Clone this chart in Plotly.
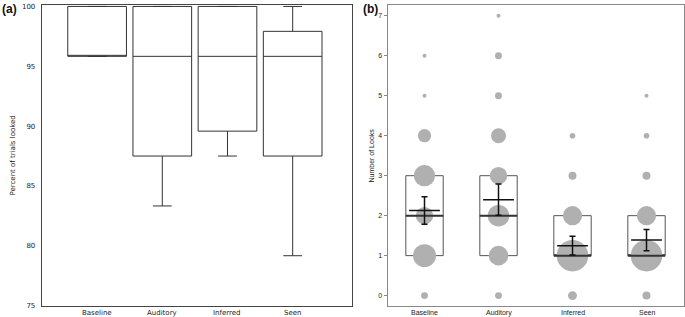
import plotly.graph_objects as go

categories = ["Baseline", "Auditory", "Inferred", "Seen"]

# Panel (a): percent of trials looked (box summary)
a_q1 = [95.83, 87.5, 89.58, 87.5]
a_median = [95.83, 95.83, 95.83, 95.83]
a_q3 = [100.0, 100.0, 100.0, 97.92]
a_low = [95.83, 83.33, 87.5, 79.17]
a_high = [100.0, 100.0, 100.0, 100.0]

# Panel (b): number of looks, counts of trials at each value
b_values = {
    "Baseline": [0, 1, 2, 3, 4, 5, 6],
    "Auditory": [0, 1, 2, 3, 4, 5, 6, 7],
    "Inferred": [0, 1, 2, 3, 4],
    "Seen": [0, 1, 2, 3, 4, 5],
}
b_counts = {
    "Baseline": [3, 33, 19, 28, 11, 1, 1],
    "Auditory": [3, 24, 29, 19, 14, 3, 3, 1],
    "Inferred": [5, 62, 23, 4, 2],
    "Seen": [4, 62, 23, 4, 2, 1],
}
b_q1 = [1, 1, 1, 1]
b_median = [2, 2, 1, 1]
b_q3 = [3, 3, 2, 2]
b_mean = [2.13, 2.40, 1.25, 1.39]
b_se = [0.345, 0.39, 0.235, 0.265]

xpos = [1, 2, 3, 4]
fig = go.Figure()

# ---- panel (a)
fig.add_trace(go.Box(
    x=xpos, q1=a_q1, median=a_median, q3=a_q3,
    lowerfence=a_low, upperfence=a_high,
    width=0.9, whiskerwidth=0.32,
    fillcolor="white", line=dict(color="#333333", width=1),
    boxpoints=False, hoverinfo="skip",
    xaxis="x", yaxis="y", showlegend=False,
))

# ---- panel (b) bubbles
for i, c in enumerate(categories):
    fig.add_trace(go.Scatter(
        x=[xpos[i]] * len(b_values[c]), y=b_values[c],
        mode="markers",
        marker=dict(size=b_counts[c], sizemode="area", sizeref=1 / 8.0,
                    color="#b0b0b0", line=dict(width=0), opacity=1),
        xaxis="x2", yaxis="y2", showlegend=False, hoverinfo="skip",
    ))

# boxes in (b)
fig.add_trace(go.Box(
    x=xpos, q1=b_q1, median=b_median, q3=b_q3,
    lowerfence=b_q1, upperfence=b_q3,
    width=0.505, whiskerwidth=0,
    fillcolor="rgba(0,0,0,0)", line=dict(color="#555555", width=1),
    boxpoints=False, hoverinfo="skip",
    xaxis="x2", yaxis="y2", showlegend=False,
))

# median lines (thicker, dark)
for i in range(4):
    fig.add_trace(go.Scatter(
        x=[xpos[i] - 0.2525, xpos[i] + 0.2525], y=[b_median[i], b_median[i]],
        mode="lines", line=dict(color="#333333", width=2),
        xaxis="x2", yaxis="y2", showlegend=False, hoverinfo="skip",
    ))

# mean +/- SE
fig.add_trace(go.Scatter(
    x=xpos, y=b_mean, mode="markers",
    marker=dict(symbol="line-ew", size=22, line=dict(color="#111111", width=1.5)),
    error_y=dict(type="data", array=b_se, color="#111111", thickness=1.5, width=3),
    xaxis="x2", yaxis="y2", showlegend=False, hoverinfo="skip",
))

W = 684.0
H = 301.0
annotations = [
    dict(text="<b>(a)</b>", x=0, y=1 - (9 - 5) / H, xref="paper", yref="paper",
         showarrow=False, xanchor="left", yanchor="middle",
         font=dict(family="Liberation Sans", size=12, color="#111111")),
    dict(text="<b>(b)</b>", x=361 / W, y=1 - (9 - 5) / H, xref="paper", yref="paper",
         showarrow=False, xanchor="left", yanchor="middle",
         font=dict(family="Liberation Sans", size=12, color="#111111")),
    dict(text="Percent of trials looked", x=12 / W, y=0.5, xref="paper", yref="paper",
         textangle=-90, showarrow=False, xanchor="center", yanchor="middle",
         font=dict(size=7, color="#222222")),
    dict(text="Number of Looks", x=371 / W, y=0.5, xref="paper", yref="paper",
         textangle=-90, showarrow=False, xanchor="center", yanchor="middle",
         font=dict(family="Liberation Sans", size=7, color="#222222")),
]
# category labels under each panel
for i, c in enumerate(categories):
    annotations.append(dict(text=c, x=xpos[i], y=0, xref="x", yref="paper",
                            showarrow=False, xanchor="center", yanchor="top",
                            yshift=-1, font=dict(size=7, color="#222222")))
    annotations.append(dict(text=c, x=xpos[i], y=0, xref="x2", yref="paper",
                            showarrow=False, xanchor="center", yanchor="top",
                            yshift=-1,
                            font=dict(family="Liberation Sans", size=7, color="#222222")))

fig.update_layout(
    width=685, height=317,
    margin=dict(l=0, r=1, t=5, b=11),
    paper_bgcolor="white", plot_bgcolor="white",
    font=dict(family="DejaVu Sans", size=7, color="#222222"),
    xaxis=dict(domain=[41.7 / W, 352 / W], range=[0.15, 4.91],
               tickvals=xpos, showticklabels=False, showgrid=False, zeroline=False,
               showline=True, mirror=True, linecolor="#444444", linewidth=1,
               ticks=""),
    yaxis=dict(range=[74.97, 100.12], tickvals=[75, 80, 85, 90, 95, 100],
               showgrid=False, zeroline=False, showline=True, mirror=True,
               linecolor="#444444", linewidth=1, ticks="", ticklabelstandoff=4,
               tickfont=dict(size=7, color="#222222")),
    xaxis2=dict(domain=[387.5 / W, 683.5 / W], range=[0.5, 4.5],
                tickvals=xpos, showticklabels=False, showgrid=False, zeroline=False,
                showline=True, mirror=True, linecolor="#888888", linewidth=1,
                ticks="", anchor="y2"),
    yaxis2=dict(range=[-0.26, 7.27], tickvals=list(range(8)), anchor="x2",
                showgrid=False, zeroline=False, showline=True, mirror=True,
                linecolor="#888888", linewidth=1, ticks="outside", ticklen=3,
                tickcolor="#888888",
                tickfont=dict(family="Liberation Sans", size=7, color="#222222")),
    annotations=annotations,
)

fig.write_html("out.html", config={"displayModeBar": False},
               post_script="document.body.style.margin='0';document.body.style.overflow='hidden';")
